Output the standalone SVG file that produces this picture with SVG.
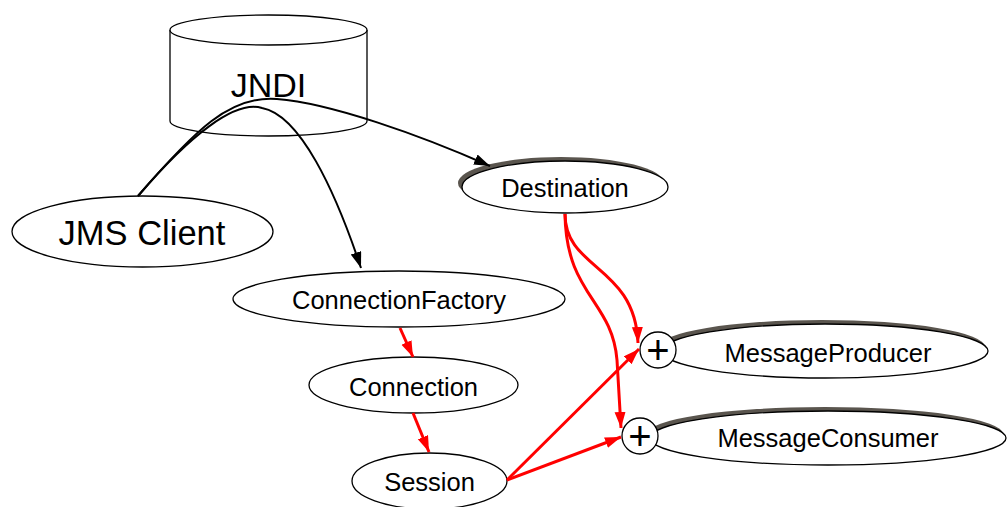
<svg xmlns="http://www.w3.org/2000/svg" width="1007" height="507" viewBox="0 0 1007 507">
<style>
.n{fill:#fff;stroke:#000;stroke-width:1.3}
.sh{fill:#5a554e;stroke:none}
.t{font-family:"Liberation Sans",Arial,sans-serif;fill:#000;text-anchor:middle}
.b{fill:none;stroke:#000;stroke-width:2}
.r{fill:none;stroke:#f00;stroke-width:3}
.p{fill:#fff;stroke:#000;stroke-width:1.3}
</style>
<defs>
<marker id="ab" markerUnits="userSpaceOnUse" markerWidth="17" markerHeight="12" refX="16" refY="5.5" orient="auto"><path d="M0,0 L16,5.5 L0,11 z" fill="#000"/></marker>
<marker id="ar" markerUnits="userSpaceOnUse" markerWidth="17" markerHeight="12" refX="16" refY="5.5" orient="auto"><path d="M0,0 L16,5.5 L0,11 z" fill="#f00"/></marker>
</defs>
<g id="jndi">
<path class="n" d="M170,30 L170,121 A98.5,15 0 0 0 367,121 L367,30"/>
<ellipse class="n" cx="268.5" cy="30" rx="98.5" ry="15"/>
<text class="t" x="268.5" y="97" font-size="34">JNDI</text>
</g>
<g id="jmsclient">
<ellipse class="n" cx="142.5" cy="231.5" rx="130.5" ry="35.5"/>
<text class="t" x="142" y="245" font-size="34.5">JMS Client</text>
</g>
<g id="destination">
<ellipse class="sh" cx="561" cy="183" rx="103" ry="26"/>
<ellipse class="n" cx="565" cy="187" rx="103" ry="26"/>
<text class="t" x="565" y="197" font-size="25.5">Destination</text>
</g>
<g id="connectionfactory">
<ellipse class="n" cx="399" cy="299" rx="166" ry="28"/>
<text class="t" x="399" y="309" font-size="25.5">ConnectionFactory</text>
</g>
<g id="connection">
<ellipse class="n" cx="413.5" cy="385" rx="104.5" ry="28"/>
<text class="t" x="413.5" y="396" font-size="25.5">Connection</text>
</g>
<g id="session">
<ellipse class="n" cx="429.5" cy="481" rx="77.5" ry="28"/>
<text class="t" x="429.5" y="491" font-size="25.5">Session</text>
</g>
<g id="messageproducer">
<ellipse class="sh" cx="822" cy="347" rx="163" ry="27"/>
<ellipse class="n" cx="825" cy="351" rx="163" ry="27"/>
<text class="t" x="828" y="362" font-size="25.5">MessageProducer</text>
<circle class="p" cx="658" cy="350" r="18"/>
<text class="t" x="658" y="364" font-size="40">+</text>
</g>
<g id="messageconsumer">
<ellipse class="sh" cx="825" cy="434" rx="178" ry="27"/>
<ellipse class="n" cx="828" cy="438" rx="178" ry="27"/>
<text class="t" x="828" y="447" font-size="25.5">MessageConsumer</text>
<circle class="p" cx="640" cy="436" r="18"/>
<text class="t" x="640" y="450" font-size="40">+</text>
</g>
<g id="connectors">
<path class="b" d="M138,196 C190,135 235,100 262,108 C300,115 335,190 361,268" marker-end="url(#ab)"/>
<path class="b" d="M138,196 C195,130 230,95 277,99 C330,103 420,135 490,166" marker-end="url(#ab)"/>
<path class="r" d="M400,328 L413,357" marker-end="url(#ar)"/>
<path class="r" d="M413,413 L429,452" marker-end="url(#ar)"/>
<path class="r" d="M507,480 L639,349" marker-end="url(#ar)"/>
<path class="r" d="M507,480 L621,437" marker-end="url(#ar)"/>
<path class="r" d="M565,214 C565,270 635,265 638,343" marker-end="url(#ar)"/>
<path class="r" d="M565,214 C566,295 612,300 617,360 L621,428" marker-end="url(#ar)"/>
</g>
</svg>
